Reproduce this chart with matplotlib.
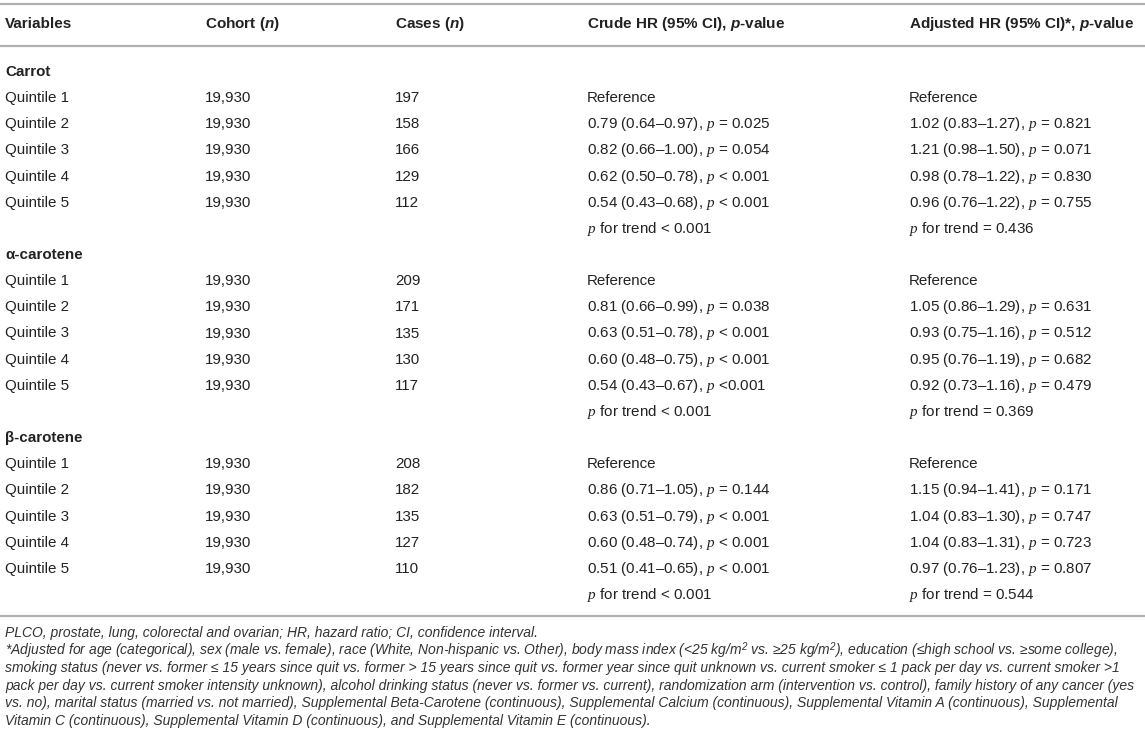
import matplotlib
matplotlib.use("Agg")
import matplotlib.pyplot as plt

plt.rcParams['font.family'] = ['Liberation Sans', 'DejaVu Sans']
plt.rcParams['mathtext.fontset'] = 'custom'
plt.rcParams['mathtext.it'] = 'Liberation Serif:italic'
plt.rcParams['mathtext.rm'] = 'Liberation Sans:italic'
plt.rcParams['mathtext.bfit'] = 'Liberation Sans:italic:bold'

# ---- table data ----
headers = ["Variables", "Cohort ($\\mathbfit{n}$)", "Cases ($\\mathbfit{n}$)",
           "Crude HR (95% CI), $\\mathbfit{p}$-value",
           "Adjusted HR (95% CI)*, $\\mathbfit{p}$-value"]
groups = ["Carrot", "α-carotene", "β-carotene"]
quintiles = ["Quintile 1", "Quintile 2", "Quintile 3", "Quintile 4", "Quintile 5"]
cohort_n = [[19930, 19930, 19930, 19930, 19930],
            [19930, 19930, 19930, 19930, 19930],
            [19930, 19930, 19930, 19930, 19930]]
cases_n = [[197, 158, 166, 129, 112],
           [209, 171, 135, 130, 117],
           [208, 182, 135, 127, 110]]
# (HR, lower, upper, p) for quintiles 2-5; quintile 1 is the reference
crude = [[("0.79", "0.64", "0.97", "= 0.025"), ("0.82", "0.66", "1.00", "= 0.054"),
          ("0.62", "0.50", "0.78", "< 0.001"), ("0.54", "0.43", "0.68", "< 0.001")],
         [("0.81", "0.66", "0.99", "= 0.038"), ("0.63", "0.51", "0.78", "< 0.001"),
          ("0.60", "0.48", "0.75", "< 0.001"), ("0.54", "0.43", "0.67", "<0.001")],
         [("0.86", "0.71", "1.05", "= 0.144"), ("0.63", "0.51", "0.79", "< 0.001"),
          ("0.60", "0.48", "0.74", "< 0.001"), ("0.51", "0.41", "0.65", "< 0.001")]]
adjusted = [[("1.02", "0.83", "1.27", "= 0.821"), ("1.21", "0.98", "1.50", "= 0.071"),
             ("0.98", "0.78", "1.22", "= 0.830"), ("0.96", "0.76", "1.22", "= 0.755")],
            [("1.05", "0.86", "1.29", "= 0.631"), ("0.93", "0.75", "1.16", "= 0.512"),
             ("0.95", "0.76", "1.19", "= 0.682"), ("0.92", "0.73", "1.16", "= 0.479")],
            [("1.15", "0.94", "1.41", "= 0.171"), ("1.04", "0.83", "1.30", "= 0.747"),
             ("1.04", "0.83", "1.31", "= 0.723"), ("0.97", "0.76", "1.23", "= 0.807")]]
crude_trend = ["< 0.001", "< 0.001", "< 0.001"]
adjusted_trend = ["= 0.436", "= 0.369", "= 0.544"]

footnotes = [
    "PLCO, prostate, lung, colorectal and ovarian; HR, hazard ratio; CI, confidence interval.",
    "*Adjusted for age (categorical), sex (male vs. female), race (White, Non-hispanic vs. Other), body mass index (<25 kg/m$^{2}$ vs. \u226525 kg/m$^{2}$), education (\u2264high school vs. \u2265some college),",
    "smoking status (never vs. former \u2264 15 years since quit vs. former > 15 years since quit vs. former year since quit unknown vs. current smoker \u2264 1 pack per day vs. current smoker >1",
    "pack per day vs. current smoker intensity unknown), alcohol drinking status (never vs. former vs. current), randomization arm (intervention vs. control), family history of any cancer (yes",
    "vs. no), marital status (married vs. not married), Supplemental Beta-Carotene (continuous), Supplemental Calcium (continuous), Supplemental Vitamin A (continuous), Supplemental",
    "Vitamin C (continuous), Supplemental Vitamin D (continuous), and Supplemental Vitamin E (continuous).",
]

# ---- layout ----
W, H = 1145, 746
col_x = [5, 205, 395, 587, 909]
row0, row_h = 72, 26.15
text_col = "#222222"
rule_col = "#b0b0b0"
fs = 10.9
fs_head = 11.0
fs_note = 10.0

fig = plt.figure(figsize=(W / 100, H / 100), dpi=100)
ax = fig.add_axes([0, 0, 1, 1])
ax.set_xlim(0, W)
ax.set_ylim(H, 0)
ax.axis("off")

def fmt_hr(cell):
    hr, lo, hi, p = cell
    return "%s (%s\u2013%s), $p$ %s" % (hr, lo, hi, p)

for x, h in zip(col_x, headers):
    ax.text(x, 24, h, fontsize=fs_head, fontweight="bold", color=text_col, va="center")

for y in [4, 46]:
    ax.plot([0, W], [y, y], color=rule_col, lw=1.6, solid_capstyle="butt")

i = 0
for g in range(len(groups)):
    y = row0 + i * row_h
    ax.text(col_x[0], y, groups[g], fontsize=fs, fontweight="bold", color=text_col, va="center")
    i += 1
    for q in range(len(quintiles)):
        y = row0 + i * row_h
        ax.text(col_x[0], y, quintiles[q], fontsize=fs, color=text_col, va="center")
        ax.text(col_x[1], y, "{:,}".format(cohort_n[g][q]), fontsize=fs, color=text_col, va="center")
        ax.text(col_x[2], y, str(cases_n[g][q]), fontsize=fs, color=text_col, va="center")
        if q == 0:
            c_txt, a_txt = "Reference", "Reference"
        else:
            c_txt, a_txt = fmt_hr(crude[g][q - 1]), fmt_hr(adjusted[g][q - 1])
        ax.text(col_x[3], y, c_txt, fontsize=fs, color=text_col, va="center")
        ax.text(col_x[4], y, a_txt, fontsize=fs, color=text_col, va="center")
        i += 1
    y = row0 + i * row_h
    ax.text(col_x[3], y, "$p$ for trend " + crude_trend[g], fontsize=fs, color=text_col, va="center")
    ax.text(col_x[4], y, "$p$ for trend " + adjusted_trend[g], fontsize=fs, color=text_col, va="center")
    i += 1

ax.plot([0, W], [616, 616], color=rule_col, lw=1.6, solid_capstyle="butt")

for k, line in enumerate(footnotes):
    ax.text(5, 633 + k * 17.6, line, fontsize=fs_note, style="italic", color="#333333", va="center")

fig.savefig("out.png", dpi=100)
